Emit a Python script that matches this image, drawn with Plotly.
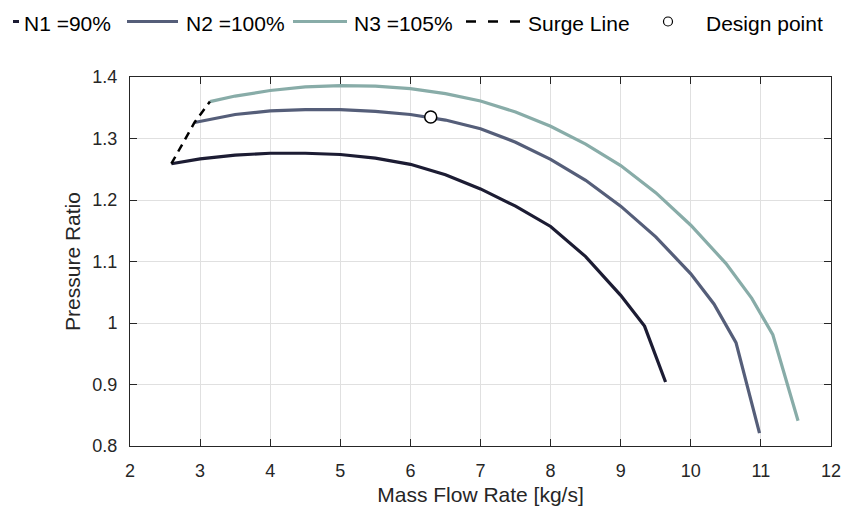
import plotly.graph_objects as go

# Compressor characteristic: pressure ratio vs mass flow for three speed lines
n1_flow = [2.59, 3.0, 3.5, 4.0, 4.5, 5.0, 5.5, 6.0, 6.5, 7.0, 7.5, 8.0, 8.5, 9.0, 9.34, 9.64]
n1_pr = [1.259, 1.267, 1.273, 1.276, 1.276, 1.274, 1.268, 1.258, 1.241, 1.218, 1.190, 1.157, 1.108, 1.045, 0.995, 0.904]

n2_flow = [2.92, 3.5, 4.0, 4.5, 5.0, 5.5, 6.0, 6.5, 7.0, 7.5, 8.0, 8.5, 9.0, 9.5, 10.0, 10.33, 10.645, 10.98]
n2_pr = [1.326, 1.339, 1.345, 1.347, 1.347, 1.344, 1.339, 1.330, 1.316, 1.294, 1.266, 1.232, 1.190, 1.140, 1.080, 1.031, 0.968, 0.821]

n3_flow = [3.14, 3.5, 4.0, 4.5, 5.0, 5.5, 6.0, 6.5, 7.0, 7.5, 8.0, 8.5, 9.0, 9.5, 10.0, 10.5, 10.87, 11.17, 11.53]
n3_pr = [1.360, 1.369, 1.378, 1.384, 1.386, 1.385, 1.381, 1.373, 1.361, 1.343, 1.320, 1.291, 1.256, 1.212, 1.159, 1.097, 1.040, 0.981, 0.841]

design_flow = [6.29]
design_pr = [1.335]

series_names = ["N1 =90%", "N2 =100%", "N3 =105%", "Surge Line", "Design point"]
x_ticks = [2, 3, 4, 5, 6, 7, 8, 9, 10, 11, 12]
y_ticks = [0.8, 0.9, 1.0, 1.1, 1.2, 1.3, 1.4]

# surge line joins the left-most (surge) point of each speed line
surge_flow = [n1_flow[0], n2_flow[0], n3_flow[0]]
surge_pr = [n1_pr[0], n2_pr[0], n3_pr[0]]

C_N1 = "#1c1c33"
C_N2 = "#555e79"
C_N3 = "#88aca8"
AX = "#262626"
FONT = "Liberation Sans, Arial, Helvetica, sans-serif"

W, H = 848, 513
L, R, T, B = 130, 17, 77, 67
PW, PH = W - L - R, H - T - B


def px(x):
    return (x - L) / PW


def py(y):
    return (H - B - y) / PH


fig = go.Figure()
lw = 3.2
fig.add_trace(go.Scatter(x=n1_flow, y=n1_pr, mode="lines", line=dict(color=C_N1, width=lw), name=series_names[0]))
fig.add_trace(go.Scatter(x=n2_flow, y=n2_pr, mode="lines", line=dict(color=C_N2, width=lw), name=series_names[1]))
fig.add_trace(go.Scatter(x=n3_flow, y=n3_pr, mode="lines", line=dict(color=C_N3, width=lw), name=series_names[2]))
fig.add_trace(go.Scatter(x=surge_flow, y=surge_pr, mode="lines",
                         line=dict(color="black", width=2.5, dash="8px,6px"), name=series_names[3]))
fig.add_trace(go.Scatter(x=design_flow, y=design_pr, mode="markers",
                         marker=dict(size=12, color="white", line=dict(color="black", width=1.5)),
                         name=series_names[4]))

# legend row across the top
shapes = []
annotations = []
key_y = py(21.5)
text_y = py(23.5)
keys = [
    dict(kind="line", x0=13, x1=19, color=C_N1, text_x=22),
    dict(kind="line", x0=127, x1=178, color=C_N2, text_x=184),
    dict(kind="line", x0=293, x1=347, color=C_N3, text_x=352),
    dict(kind="dash", x0=466, x1=520, color="black", text_x=526),
    dict(kind="circle", x0=668, x1=668, color="black", text_x=704),
]
for key, name in zip(keys, series_names):
    if key["kind"] == "line":
        shapes.append(dict(type="line", xref="paper", yref="paper", x0=px(key["x0"]), x1=px(key["x1"]),
                           y0=key_y, y1=key_y, line=dict(color=key["color"], width=3)))
    elif key["kind"] == "dash":
        shapes.append(dict(type="line", xref="paper", yref="paper", x0=px(key["x0"]), x1=px(key["x1"]),
                           y0=key_y, y1=key_y, line=dict(color=key["color"], width=2.5, dash="10px,12px")))
    else:
        shapes.append(dict(type="circle", xref="paper", yref="paper", xsizemode="pixel", ysizemode="pixel",
                           xanchor=px(key["x0"]), yanchor=key_y, x0=-4.5, x1=4.5, y0=-4.5, y1=4.5,
                           line=dict(color=key["color"], width=1.2), fillcolor="white"))
    annotations.append(dict(text=name, xref="paper", yref="paper", x=px(key["text_x"]), y=text_y,
                            xanchor="left", yanchor="middle", showarrow=False,
                            font=dict(family=FONT, size=21, color="black")))

axis_common = dict(
    showgrid=True, gridcolor="#e0e0e0", gridwidth=1,
    showline=True, linecolor=AX, linewidth=1, mirror="ticks",
    ticks="inside", ticklen=7, tickcolor=AX, tickwidth=1,
    tickfont=dict(family=FONT, size=18, color=AX),
    zeroline=False,
)

fig.update_layout(
    width=W, height=H,
    margin=dict(l=L, r=R, t=T, b=B, autoexpand=False),
    paper_bgcolor="white", plot_bgcolor="white",
    showlegend=False,
    font=dict(family=FONT, color=AX),
    shapes=shapes,
    annotations=annotations,
    xaxis=dict(range=[2, 12], tickvals=x_ticks, ticktext=[str(v) for v in x_ticks],
               ticklabelstandoff=8,
               title=dict(text="Mass Flow Rate [kg/s]", font=dict(size=21, color=AX), standoff=7),
               **axis_common),
    yaxis=dict(range=[0.8, 1.4], tickvals=y_ticks, ticktext=["0.8", "0.9", "1", "1.1", "1.2", "1.3", "1.4"],
               ticklabelstandoff=8,
               title=dict(text="Pressure Ratio", font=dict(size=21, color=AX), standoff=6),
               **axis_common),
)

fig.write_html("out.html")
